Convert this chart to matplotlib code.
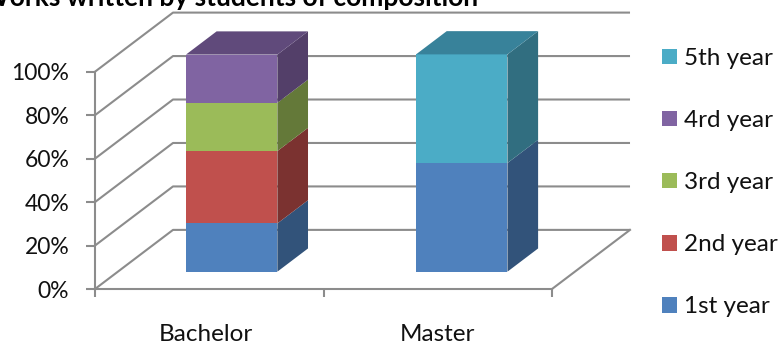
import matplotlib
matplotlib.use('Agg')
import matplotlib.pyplot as plt
from matplotlib.patches import Polygon, Patch

plt.rcParams['font.family'] = ['Lato', 'DejaVu Sans']

categories = ['Bachelor', 'Master']
yearNames = ['1st year', '2nd year', '3rd year', '4rd year', '5th year']
bachelorShare = [22.2, 33.3, 22.2, 22.2, 0]
masterShare = [50, 0, 0, 0, 50]
yTicks = [0, 20, 40, 60, 80, 100]

frontColors = ['#4F81BD', '#C0504D', '#9BBB59', '#8064A2', '#4BACC6']
sideColors = ['#32537A', '#7B3230', '#647939', '#533F69', '#316E80']
topColors = ['#3B6190', '#92403D', '#76904A', '#604A7B', '#38829A']
GRID = '#8C8C8C'

# oblique projection: depth 1 is the back wall
DX = 0.3414
DY = 27.2
BAR_W = 0.4
D_FRONT = 0.293
D_BACK = 0.686

def proj(x, v, d):
    return (x + d*DX, v + d*DY)

def drawBar(ax, x0, shares):
    x1 = x0 + BAR_W
    bottom = 0
    for i, share in enumerate(shares):
        if share == 0:
            continue
        top = bottom + share
        ax.add_patch(Polygon([proj(x0, bottom, D_FRONT), proj(x1, bottom, D_FRONT),
                              proj(x1, top, D_FRONT), proj(x0, top, D_FRONT)],
                             fc=frontColors[i], ec='none', clip_on=False, zorder=3))
        ax.add_patch(Polygon([proj(x1, bottom, D_FRONT), proj(x1, bottom, D_BACK),
                              proj(x1, top, D_BACK), proj(x1, top, D_FRONT)],
                             fc=sideColors[i], ec='none', clip_on=False, zorder=3))
        bottom = top
        lastTop = i
    ax.add_patch(Polygon([proj(x0, bottom, D_FRONT), proj(x1, bottom, D_FRONT),
                          proj(x1, bottom, D_BACK), proj(x0, bottom, D_BACK)],
                         fc=topColors[lastTop], ec='none', clip_on=False, zorder=3))

fig = plt.figure(figsize=(7.79, 3.45), dpi=100)
ax = fig.add_axes([95/779, 1 - 289/345, 457/779, 217.3/345])
ax.set_xlim(0, 2)
ax.set_ylim(0, 100)

# wall gridlines and the diagonals running back from the y axis
for v in yTicks:
    pts = [proj(0, v, 0), proj(0, v, 1), proj(2, v, 1)]
    ax.plot([p[0] for p in pts], [p[1] for p in pts], color=GRID, lw=1.5,
            clip_on=False, zorder=1, solid_capstyle='butt')
pts = [proj(2, 0, 0), proj(2, 0, 1)]
ax.plot([p[0] for p in pts], [p[1] for p in pts], color=GRID, lw=1.5, clip_on=False, zorder=1)

drawBar(ax, 0.298, bachelorShare)
drawBar(ax, 1.305, masterShare)

for side in ['top', 'right']:
    ax.spines[side].set_visible(False)
for side in ['left', 'bottom']:
    ax.spines[side].set_color(GRID)
    ax.spines[side].set_linewidth(1.5)

ax.set_yticks(yTicks)
ax.set_yticklabels(['%d%%' % v for v in yTicks])
ax.set_xticks([0, 1, 2])
ax.set_xticklabels([])
ax.set_xticks([0.487, 1.5], minor=True)
ax.set_xticklabels(categories, minor=True)
ax.tick_params(axis='y', length=6.5, width=1.5, color=GRID, pad=12, labelsize=16.5, labelcolor='#111111')
ax.tick_params(axis='x', which='major', length=6, width=1.5, color=GRID)
ax.tick_params(axis='x', which='minor', length=0, pad=25.5, labelsize=17.5, labelcolor='#111111')

fig.text(478/779, 1 - 6/345, 'Works written by students of composition', ha='right', va='baseline',
         fontsize=19, fontweight='bold', color='black')

handles = [Patch(fc=frontColors[i], ec='none', label=yearNames[i]) for i in range(len(yearNames))][::-1]
ax.legend(handles=handles, loc='upper left', bbox_to_anchor=(662/779, 1 - 48/345),
          bbox_transform=fig.transFigure, frameon=False, fontsize=17.5, labelcolor='#111111',
          handlelength=0.617, handleheight=0.617, handletextpad=0.29,
          labelspacing=1.69, borderpad=0, borderaxespad=0)

fig.savefig('out.png', dpi=100)
